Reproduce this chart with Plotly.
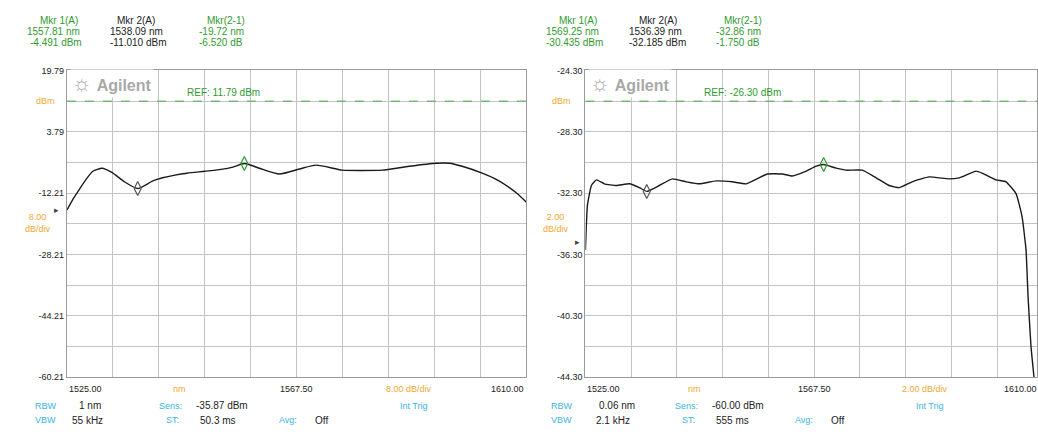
import plotly.graph_objects as go

W, H = 1038, 435

# ---------------- data ----------------
# Left trace (8 dB/div)
nm_left = [1525.0, 1526.1, 1527.4, 1528.6, 1529.8, 1531.5, 1533.3, 1535.7, 1538.09,
           1540.9, 1542.7, 1545.0, 1547.2, 1550.5, 1553.5, 1555.7, 1557.81, 1560.6,
           1564.3, 1568.0, 1571.1, 1575.9, 1579.5, 1583.3, 1588.3, 1593.3, 1595.7,
           1598.1, 1601.8, 1604.9, 1608.1, 1610.0]
dbm_left = [-16.6, -13.8, -11.0, -8.5, -6.5, -5.7, -6.8, -9.3, -11.01,
            -9.0, -8.2, -7.5, -7.0, -6.5, -6.0, -5.4, -4.49, -5.7,
            -7.2, -5.9, -4.9, -6.2, -6.3, -6.2, -5.2, -4.4, -4.4,
            -5.2, -7.0, -9.0, -12.1, -14.6]

# Right trace (2 dB/div)
nm_right = [1525.0, 1525.37, 1526.11, 1527.04, 1528.53, 1530.75, 1533.17, 1535.02, 1536.39,
            1538.73, 1541.15, 1543.74, 1546.16, 1549.31, 1552.28, 1554.88, 1558.78, 1561.56,
            1563.42, 1566.02, 1567.87, 1569.25, 1571.58, 1573.44, 1576.41, 1579.01, 1581.42,
            1583.28, 1585.69, 1588.84, 1592.56, 1594.41, 1597.57, 1598.68, 1601.28, 1603.13,
            1604.99, 1606.10, 1606.85, 1607.22, 1607.77, 1608.33, 1609.0]
dbm_right = [-36.0, -33.1, -31.8, -31.43, -31.69, -31.8, -31.69, -31.94, -32.185,
             -31.8, -31.37, -31.56, -31.69, -31.5, -31.56, -31.69, -31.05, -31.05,
             -31.18, -30.86, -30.54, -30.435, -30.67, -30.8, -30.8, -31.3, -31.8,
             -31.94, -31.56, -31.24, -31.37, -31.3, -30.86, -30.99, -31.43, -31.56,
             -32.33, -33.8, -36.0, -39.0, -42.3, -44.3, -47.0]

# markers  (nm, dBm)
mkr_left_nm = [1557.81, 1538.09]
mkr_left_dbm = [-4.491, -11.010]
mkr_right_nm = [1569.25, 1536.39]
mkr_right_dbm = [-30.435, -32.185]

ref_left = 11.79
ref_right = -26.30

top_left, div_left = 19.79, 8.0
top_right, div_right = -24.30, 2.0
x_start, x_span = 1525.0, 85.0

header_left = [["Mkr 1(A)", "1557.81 nm", "-4.491 dBm"],
               ["Mkr 2(A)", "1538.09 nm", "-11.010 dBm"],
               ["Mkr(2-1)", "-19.72 nm", "-6.520 dB"]]
header_right = [["Mkr 1(A)", "1569.25 nm", "-30.435 dBm"],
                ["Mkr 2(A)", "1536.39 nm", "-32.185 dBm"],
                ["Mkr(2-1)", "-32.86 nm", "-1.750 dB"]]

x_labels = ["1525.00", "1567.50", "1610.00"]
settings_left = {"RBW": "1 nm", "VBW": "55 kHz", "Sens:": "-35.87 dBm", "ST:": "50.3 ms", "Avg:": "Off"}
settings_right = {"RBW": "0.06 nm", "VBW": "2.1 kHz", "Sens:": "-60.00 dBm", "ST:": "555 ms", "Avg:": "Off"}

# ---------------- style ----------------
FONT = "Liberation Sans, Arial, sans-serif"
GREEN = "#2f9a2f"
ORANGE = "#f0a830"
CYAN = "#3ab4e0"
GRID = "#c4c4c4"
BORDER = "#9a9a9a"
TXT = "#222222"


def px(x):
    return x / W


def py(y):
    return 1 - y / H


fig = go.Figure()

# traces
fig.add_trace(go.Scatter(x=nm_left, y=dbm_left, mode="lines", xaxis="x", yaxis="y",
                         line=dict(color="#1a1a1a", width=1.4, shape="spline", smoothing=0.6),
                         showlegend=False, hoverinfo="skip"))
fig.add_trace(go.Scatter(x=nm_right, y=dbm_right, mode="lines", xaxis="x2", yaxis="y2",
                         line=dict(color="#1a1a1a", width=1.4, shape="spline", smoothing=0.4),
                         showlegend=False, hoverinfo="skip"))

# reference lines
fig.add_trace(go.Scatter(x=[x_start, x_start + x_span], y=[ref_left, ref_left], mode="lines",
                         xaxis="x", yaxis="y", line=dict(color="#4aa84a", width=1, dash="dash"),
                         showlegend=False, hoverinfo="skip"))
fig.add_trace(go.Scatter(x=[x_start, x_start + x_span], y=[ref_right, ref_right], mode="lines",
                         xaxis="x2", yaxis="y2", line=dict(color="#4aa84a", width=1, dash="dash"),
                         showlegend=False, hoverinfo="skip"))

# markers
for xs, ys, xa, ya in [(mkr_left_nm, mkr_left_dbm, "x", "y"), (mkr_right_nm, mkr_right_dbm, "x2", "y2")]:
    fig.add_trace(go.Scatter(x=xs, y=ys, mode="markers", xaxis=xa, yaxis=ya,
                             marker=dict(symbol="diamond-tall-open", size=10,
                                         color=[GREEN, "#555555"], line=dict(width=1.2)),
                             showlegend=False, hoverinfo="skip"))


def yaxis_cfg(top, div, anchor):
    vals = [top - div * i for i in range(11)]
    text = [f"{v:.2f}" if i % 2 == 0 else "" for i, v in enumerate(vals)]
    return dict(domain=[py(381), py(67)], range=[top - 10 * div, top], anchor=anchor,
                tickvals=vals, ticktext=text, ticks="", showgrid=True, gridcolor=GRID, gridwidth=1,
                zeroline=False, showline=True, linecolor=BORDER, mirror=True,
                tickfont=dict(family=FONT, size=9, color=TXT), fixedrange=True)


def xaxis_cfg(d0, d1, rng, anchor):
    vals = [x_start + x_span / 10 * i for i in range(11)]
    return dict(domain=[d0, d1], range=rng, anchor=anchor, tickvals=vals, showticklabels=False,
                ticks="", showgrid=True, gridcolor=GRID, gridwidth=1, zeroline=False,
                showline=True, linecolor=BORDER, mirror=True, fixedrange=True)


right_px_per_nm = 458 / x_span
right_end = x_start + (W - 586) / right_px_per_nm

fig.update_layout(
    width=W, height=H, margin=dict(l=0, r=0, t=0, b=0),
    paper_bgcolor="white", plot_bgcolor="white",
    font=dict(family=FONT, size=9, color=TXT),
    xaxis=xaxis_cfg(px(67), px(527), [x_start, x_start + x_span], "y"),
    yaxis=yaxis_cfg(top_left, div_left, "x"),
    xaxis2=xaxis_cfg(px(586), 1.0, [x_start, right_end], "y2"),
    yaxis2=yaxis_cfg(top_right, div_right, "x2"),
)

ann = []


def A(text, x, y, color=TXT, xanchor="left", size=9, xref="paper", **kw):
    d = dict(text=text, x=x, y=py(y), xref=xref, yref="paper", xanchor=xanchor, yanchor="middle",
             showarrow=False, font=dict(family=FONT, size=size, color=color))
    d.update(kw)
    ann.append(d)


# header marker readouts
col_pos_left = [[38, 25, 28], [115, 108, 108], [205, 197, 197]]
col_pos_right = [[558, 545, 545], [638, 628, 628], [723, 715, 715]]
col_colors = [GREEN, TXT, GREEN]
rows_y = [16, 27, 38]
for header, pos in [(header_left, col_pos_left), (header_right, col_pos_right)]:
    for c in range(3):
        for r in range(3):
            A(header[c][r], px(pos[c][r]), rows_y[r], color=col_colors[c], size=10)

# Agilent logos
for x0 in [67, 586]:
    A("<span style='font-size:22px'>☼</span> <b>Agilent</b>", px(x0 + 3), 80, color="#a8a8a8",
      size=16, bgcolor="white", borderpad=1)

# REF labels
A(f"REF: {ref_left:.2f} dBm", px(185), 90, color=GREEN, size=10)
A(f"REF: {ref_right:.2f} dBm", px(703), 90, color=GREEN, size=10)

# unit labels left of axes
A("dBm", px(46), 98, color=ORANGE, xanchor="center")
A("dBm", px(562), 98, color=ORANGE, xanchor="center")
A(f"{div_left:.2f}<br>dB/div", px(38), 223, color=ORANGE, xanchor="center")
A(f"{div_right:.2f}<br>dB/div", px(557), 223, color=ORANGE, xanchor="center")
A("▸", px(57), 210, color="#444", xanchor="center", size=9)
A("▸", px(578), 243, color="#444", xanchor="center", size=9)

# x-axis labels
for xa, x_end_px in [("x", None), ("x2", 1040)]:
    A(x_labels[0], x_start, 393, xref=xa, xanchor="left")
    A(x_labels[1], x_start + x_span / 2, 393, xref=xa, xanchor="center")
    if x_end_px is None:
        A(x_labels[2], x_start + x_span, 393, xref=xa, xanchor="right")
    else:
        A(x_labels[2], px(x_end_px), 393, xanchor="right")

A("nm", px(180), 393, color=ORANGE, xanchor="center")
A("nm", px(695), 393, color=ORANGE, xanchor="center")
A(f"{div_left:.2f} dB/div", px(409), 393, color=ORANGE, xanchor="center")
A(f"{div_right:.2f} dB/div", px(926), 393, color=ORANGE, xanchor="center")

# bottom settings
for s, off, rbw_r, vbw_r in [(settings_left, 0, 103, 105), (settings_right, 517, 638, 633)]:
    A("RBW", px(33 + off), 410, color=CYAN)
    A("VBW", px(33 + off), 425, color=CYAN)
    A(s["RBW"], px(rbw_r), 410, xanchor="right", size=10)
    A(s["VBW"], px(vbw_r), 425, xanchor="right", size=10)
    A("Sens:", px(157 + off), 410, color=CYAN)
    A(s["Sens:"], px(194 + off), 410, size=10)
    A("ST:", px(164 + off), 425, color=CYAN)
    A(s["ST:"], px(198 + off), 425, size=10)
    A("Avg:", px(277 + off), 425, color=CYAN)
    A(s["Avg:"], px(313 + off), 425, size=10)
    A("Int Trig", px(398 + off), 410, color=CYAN)

fig.update_layout(annotations=ann)

fig.write_html("out.html", config={"displayModeBar": False},
               post_script="document.body.style.margin='0';")
